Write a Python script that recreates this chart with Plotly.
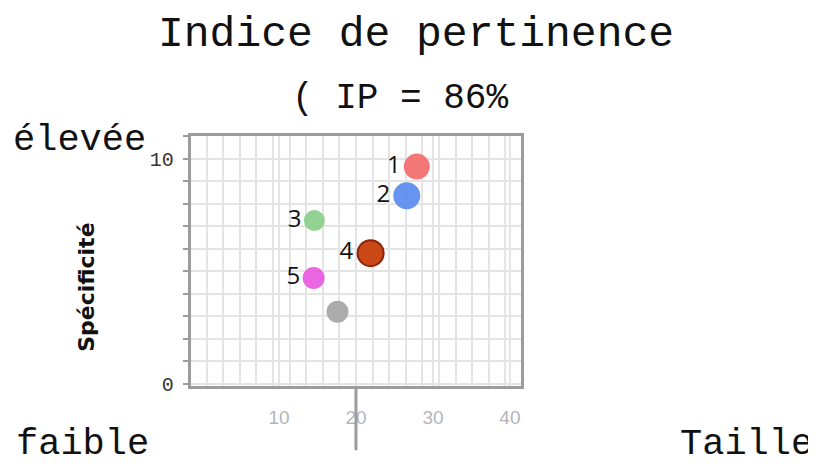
import plotly.graph_objects as go

# Data
ids = ["1", "2", "3", "4", "5", ""]
taille = [27.9, 26.6, 14.6, 21.9, 14.5, 17.6]
specificite = [9.65, 8.35, 7.25, 5.8, 4.7, 3.2]
sizes = [24, 25, 19, 26, 20, 20]
colors = ["#f47070", "#5e8ff0", "#8fd08f", "#c8400a", "#ea5fe0", "#a8a8a8"]
line_colors = ["#f47070", "#5e8ff0", "#8fd08f", "#8a1800", "#ea5fe0", "#a8a8a8"]
x_tick_vals = [10, 20, 30, 40]
y_tick_vals = [0, 10]
ref_x = 20

title_text = "Indice de pertinence"
subtitle_text = "( IP = 86%"

W, H = 816, 466
DX, DY = 8, 0  # page offset compensation


def px(x):
    return (x - DX) / W


def py(y):
    return 1 - (y - DY) / H


fig = go.Figure()
fig.add_trace(go.Scatter(
    x=taille, y=specificite, mode="markers+text",
    text=ids, textposition="middle left",
    textfont=dict(family="Open Sans", size=24, color="#111"),
    marker=dict(size=sizes, color=colors, opacity=0.95,
                line=dict(color=line_colors, width=2)),
    showlegend=False, cliponaxis=False,
))

grid = "#e4e4e4"
mono = "Liberation Mono"


def ann(text, x, y, size, **kw):
    d = dict(text=text, x=px(x), y=py(y), xref="paper", yref="paper",
             xanchor="center", yanchor="middle", showarrow=False,
             font=dict(family=kw.pop("family", mono), size=size, color="#111"))
    d.update(kw)
    return d


fig.update_layout(
    width=W, height=H,
    margin=dict(l=0, r=0, t=0, b=0),
    paper_bgcolor="white", plot_bgcolor="white",
    xaxis=dict(domain=[px(190.7), px(520.7)], range=[-1.47, 41.4],
               tickvals=x_tick_vals, ticktext=[str(v) for v in x_tick_vals],
               showgrid=True, gridcolor=grid, gridwidth=2,
               minor=dict(dtick=2.156, tick0=20, showgrid=True, gridcolor=grid, gridwidth=2),
               zeroline=False, showline=True, mirror=True,
               linecolor="#9c9c9c", linewidth=3,
               ticks="", ticklabelstandoff=12,
               tickfont=dict(family="Liberation Sans", size=19, color="#b4b4bc")),
    yaxis=dict(domain=[py(386.7), py(131)], range=[-0.12, 11],
               tickvals=y_tick_vals, ticktext=[str(v) for v in y_tick_vals],
               showgrid=True, gridcolor=grid, gridwidth=2,
               minor=dict(dtick=1, tick0=0, showgrid=True, gridcolor=grid, gridwidth=2,
                          ticks="outside", ticklen=5, tickcolor="#9c9c9c", tickwidth=2),
               zeroline=False, showline=True, mirror=True,
               linecolor="#9c9c9c", linewidth=3,
               ticks="", ticklabelstandoff=10,
               tickfont=dict(family=mono, size=20, color="#333")),
    shapes=[dict(type="line", xref="x", yref="paper", x0=ref_x, x1=ref_x,
                 y0=py(452), y1=py(386.7), line=dict(color="#9c9c9c", width=3))],
    annotations=[
        ann(title_text, 416, 27, 43),
        ann(subtitle_text, 400, 92, 36),
        ann("élevée", 79, 135, 37),
        ann("faible", 82, 446, 37),
        ann("Taille", 746, 446, 37),
        ann("<b>Spécificité</b>", 87, 286, 22, textangle=-90, family="DejaVu Sans"),
    ],
)

fig.write_html("out.html")
